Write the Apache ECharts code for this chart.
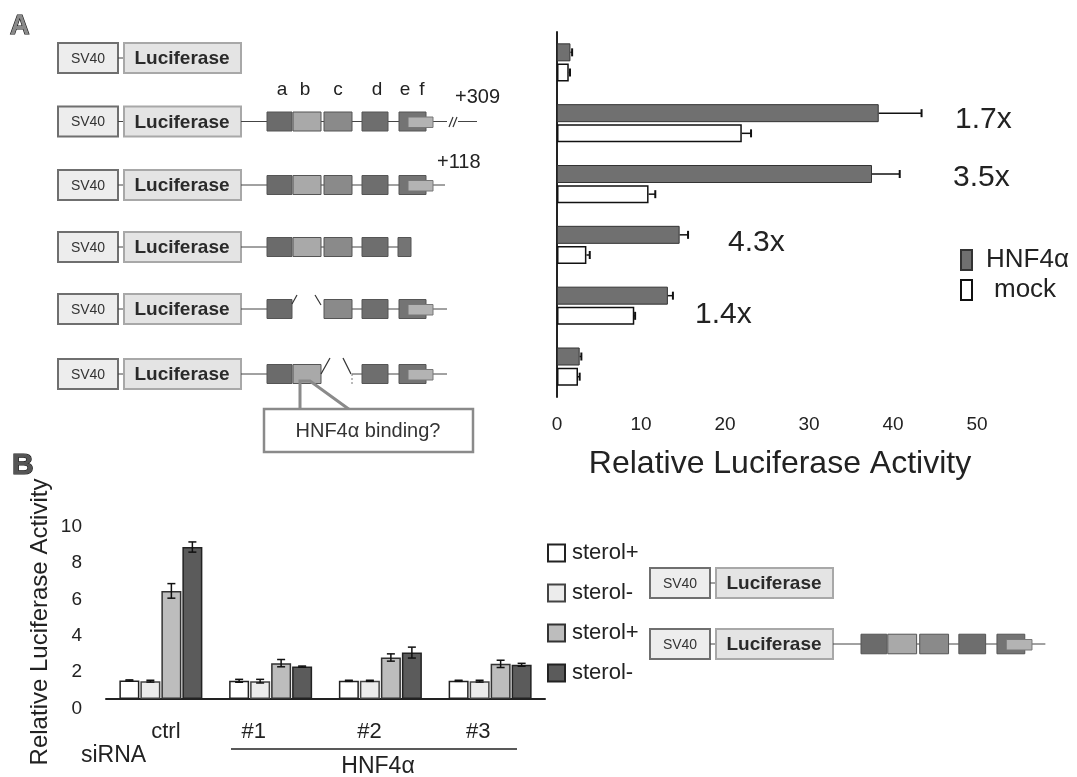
<!DOCTYPE html>
<html lang="en">
<head>
  <meta charset="UTF-8">
  <title>Relative Luciferase Activity</title>
  <script src="https://cdn.jsdelivr.net/npm/echarts@6/dist/echarts.min.js"></script>
  <style>html, body { margin: 0; background: #fff; }</style>
</head>
<body>
  <div id="main" style="width: 1077px; height: 777px;"></div>
  <script>
    // ---- panel A: six reporter constructs, top to bottom
    const constructs = ['SV40-Luc', '+309', '+118', 'a-e', 'del b', 'del c']
    const hnfVals = [1.6, 38.3, 37.5, 14.6, 13.2, 2.7]
    const hnfErr = [0.2, 5.1, 3.3, 1.0, 0.6, 0.2]
    const mockVals = [1.4, 22.0, 10.9, 3.5, 9.2, 2.5]
    const mockErr = [0.15, 1.1, 0.8, 0.4, 0.1, 0.2]
    const foldLabels = ['', '1.7x', '3.5x', '4.3x', '1.4x', '']

    // ---- panel B: siRNA groups
    const bGroups = ['ctrl', '#1', '#2', '#3']
    const svPlus = [1.02, 1.0, 1.0, 1.0]
    const svPlusErr = [0.03, 0.08, 0.03, 0.03]
    const svMinus = [0.98, 0.98, 1.0, 0.98]
    const svMinusErr = [0.05, 0.1, 0.03, 0.05]
    const fullPlus = [5.94, 1.97, 2.28, 1.93]
    const fullPlusErr = [0.4, 0.2, 0.2, 0.2]
    const fullMinus = [8.35, 1.78, 2.55, 1.88]
    const fullMinusErr = [0.28, 0.03, 0.3, 0.08]

    const F = 'Liberation Sans, Arial, sans-serif'
    const chart = echarts.init(document.getElementById('main'))

    // horizontal error bars (panel A), only to the right
    function errH(vals, errs, off) {
      return {
        type: 'custom', xAxisIndex: 0, yAxisIndex: 0, z: 4, silent: true,
        data: vals.map((v, i) => [i, v, v + errs[i]]),
        encode: { x: [1, 2], y: 0 },
        renderItem(params, api) {
          const p1 = api.coord([api.value(1), api.value(0)])
          const p2 = api.coord([api.value(2), api.value(0)])
          const y = p1[1] + off
          return {
            type: 'group', children: [
              { type: 'line', shape: { x1: p1[0], y1: y, x2: p2[0], y2: y }, style: { stroke: '#111', lineWidth: 1.5 } },
              { type: 'line', shape: { x1: p2[0], y1: y - 4, x2: p2[0], y2: y + 4 }, style: { stroke: '#111', lineWidth: 2 } }
            ]
          }
        }
      }
    }

    // vertical error bars (panel B)
    function errV(vals, errs, off) {
      return {
        type: 'custom', xAxisIndex: 1, yAxisIndex: 1, z: 4, silent: true,
        data: vals.map((v, i) => [i, v - errs[i], v + errs[i]]),
        encode: { x: 0, y: [1, 2] },
        renderItem(params, api) {
          const p1 = api.coord([api.value(0), api.value(1)])
          const p2 = api.coord([api.value(0), api.value(2)])
          const x = p1[0] + off
          const s = { stroke: '#111', lineWidth: 1.5 }
          return {
            type: 'group', children: [
              { type: 'line', shape: { x1: x, y1: p1[1], x2: x, y2: p2[1] }, style: s },
              { type: 'line', shape: { x1: x - 4, y1: p1[1], x2: x + 4, y2: p1[1] }, style: s },
              { type: 'line', shape: { x1: x - 4, y1: p2[1], x2: x + 4, y2: p2[1] }, style: s }
            ]
          }
        }
      }
    }

    // ---- drawing helpers for the construct diagrams
    function txt(x, y, s, size, o = {}) {
      return {
        type: 'text', x, y, silent: true,
        style: Object.assign({ text: s, fontSize: size, fontFamily: F, fill: '#222', align: 'left', verticalAlign: 'middle' }, o)
      }
    }
    function rect(x, y, w, h, fill, stroke, lw = 1) {
      return { type: 'rect', silent: true, shape: { x, y, width: w, height: h }, style: { fill, stroke, lineWidth: lw } }
    }
    function line(x1, y1, x2, y2, lw = 1, c = '#444') {
      return { type: 'line', silent: true, shape: { x1, y1, x2, y2 }, style: { stroke: c, lineWidth: lw } }
    }

    function promoter(x0, yc) {
      return [
        rect(x0, yc - 15, 60, 30, '#ededed', '#6f6f6f', 2),
        txt(x0 + 30, yc + 1, 'SV40', 14, { align: 'center', fill: '#333' }),
        line(x0 + 60, yc, x0 + 66, yc),
        rect(x0 + 66, yc - 15, 117, 30, '#e4e4e4', '#a8a8a8', 2),
        txt(x0 + 124, yc + 1, 'Luciferase', 19, { align: 'center', fontWeight: 'bold', fill: '#2a2a2a' })
      ]
    }

    const part = {
      a: [0, 25, '#6b6b6b'], b: [26, 54, '#a9a9a9'], c: [57, 85, '#8a8a8a'],
      d: [95, 121, '#6e6e6e'], e: [132, 159, '#747474'], es: [131, 144, '#747474']
    }
    // keys: block names, links: connecting line pieces, withF: add f box, tailEnd: 3' line end
    function blocks(xa, yc, k, keys, links, withF, tailEnd) {
      const h = 19 * k
      const out = []
      links.forEach(([a, b]) => out.push(line(xa + a * k, yc, xa + b * k, yc)))
      if (tailEnd) out.push(line(xa + 166 * k, yc, xa + tailEnd * k, yc))
      keys.forEach(key => {
        const [a, b, c] = part[key]
        out.push(rect(xa + a * k, yc - h / 2, (b - a) * k, h, c, '#555', 1))
      })
      if (withF) out.push(rect(xa + 141 * k, yc - 4.5, 25 * k, 10.5, '#b3b3b3', '#777', 1))
      return out
    }

    const g = []
    // panel letters
    g.push(txt(10, 27, 'A', 27, { fontWeight: 'bold', fill: '#8a8a8a', stroke: '#111', lineWidth: 1.2 }))
    g.push(txt(12, 466, 'B', 30, { fontWeight: 'bold', fill: '#555', stroke: '#111', lineWidth: 1.2 }))

    // panel A diagrams
    const rowY = [58, 121.5, 185, 247, 309, 374]
    const xa = 267
    rowY.forEach(y => g.push(...promoter(58, y)))
    for (let i = 1; i < 6; i++) g.push(line(241, rowY[i], xa, rowY[i]))
    const allLinks = [[54, 57], [85, 95], [121, 132]]
    g.push(...blocks(xa, rowY[1], 1, ['a', 'b', 'c', 'd', 'e'], allLinks, true, 180))
    g.push(...blocks(xa, rowY[2], 1, ['a', 'b', 'c', 'd', 'e'], allLinks, true, 178))
    g.push(...blocks(xa, rowY[3], 1, ['a', 'b', 'c', 'd', 'es'], [[54, 57], [85, 95], [121, 131]], false, 0))
    g.push(...blocks(xa, rowY[4], 1, ['a', 'c', 'd', 'e'], [[85, 95], [121, 132]], true, 180))
    g.push(...blocks(xa, rowY[5], 1, ['a', 'b', 'd', 'e'], [[85, 95], [121, 132]], true, 180))
    // deletion marks
    g.push(line(xa + 25, rowY[4] - 5, xa + 30, rowY[4] - 14, 1.2, '#333'))
    g.push(line(xa + 48, rowY[4] - 14, xa + 54, rowY[4] - 4, 1.2, '#333'))
    g.push(line(xa + 54, rowY[5], xa + 63, rowY[5] - 16, 1.2, '#333'))
    g.push(line(xa + 76, rowY[5] - 16, xa + 84, rowY[5], 1.2, '#333'))
    g.push({ type: 'line', silent: true, shape: { x1: xa + 85, y1: rowY[5], x2: xa + 85, y2: rowY[5] + 12 }, style: { stroke: '#777', lineWidth: 1, lineDash: [2, 2] } })
    // +309 break mark and extension
    g.push(line(449, 127, 453, 117, 1.2, '#333'), line(453, 127, 457, 117, 1.2, '#333'), line(458, 121.5, 477, 121.5))
    ;[['a', 282], ['b', 305], ['c', 338], ['d', 377], ['e', 405], ['f', 422]].forEach(([s, x]) =>
      g.push(txt(x, 90, s, 19, { align: 'center' })))
    g.push(txt(455, 97, '+309', 20), txt(437, 162, '+118', 20))
    // callout
    g.push({ type: 'polyline', silent: true, shape: { points: [[300, 410], [300, 381], [310, 381], [350, 410]] }, style: { stroke: '#8a8a8a', lineWidth: 3, fill: null } })
    g.push(rect(264, 409, 209, 43, '#fff', '#8a8a8a', 2.5))
    g.push(txt(368, 431, 'HNF4α binding?', 20, { align: 'center', fill: '#333' }))

    // fold-change labels beside the bars
    const foldPos = [null, [955, 120], [953, 178], [728, 243], [695, 315], null]
    foldLabels.forEach((s, i) => { if (s) g.push(txt(foldPos[i][0], foldPos[i][1], s, 30)) })

    // panel B diagrams and axis notes
    g.push(...promoter(650, 583))
    g.push(...promoter(650, 644))
    g.push(line(833, 644, 861, 644))
    g.push(...blocks(861, 644, 1.03, ['a', 'b', 'c', 'd', 'e'], allLinks, true, 179))
    g.push(txt(81, 756, 'siRNA', 23))
    g.push(line(231, 749, 517, 749, 1.5, '#222'))
    g.push(txt(378, 767, 'HNF4α', 23, { align: 'center' }))

    const axisLine = { lineStyle: { color: '#222', width: 2 } }
    const tickIn = { inside: true, length: 5, lineStyle: { color: '#222', width: 1.5 } }

    const option = {
      animation: false,
      grid: [
        { left: 557, top: 32, width: 420, height: 365 },
        { left: 106, top: 517, width: 439, height: 182 }
      ],
      legend: [
        {
          data: ['HNF4α', 'mock'], orient: 'vertical', left: 960, top: 247, padding: 0,
          icon: 'rect', itemWidth: 11, itemHeight: 20, itemGap: 4,
          formatter: n => n === 'mock' ? '{m|mock}' : '{h|' + n + '}',
          textStyle: {
            fontSize: 26, fontFamily: F, color: '#222', lineHeight: 26,
            rich: { h: { fontSize: 26, padding: [0, 0, 0, 9] }, m: { fontSize: 26, padding: [0, 0, 0, 17] } }
          }
        },
        {
          data: ['sterol+', 'sterol-', 'sterol+ ', 'sterol- '], orient: 'vertical', left: 547, top: 542, padding: 0,
          icon: 'rect', itemWidth: 17, itemHeight: 17, itemGap: 18,
          formatter: n => n.trim(),
          textStyle: { fontSize: 22, fontFamily: F, color: '#222', lineHeight: 22, padding: [0, 0, 0, 2] }
        }
      ],
      xAxis: [
        {
          gridIndex: 0, type: 'value', min: 0, max: 50, interval: 10,
          axisLine, axisTick: tickIn, splitLine: { show: false },
          axisLabel: { fontSize: 19, fontFamily: F, color: '#222', margin: 18 },
          name: 'Relative Luciferase Activity', nameLocation: 'middle', nameGap: 51,
          nameTextStyle: { fontSize: 32, fontFamily: F, color: '#222', padding: [0, 0, 0, 26] }
        },
        {
          gridIndex: 1, type: 'category', data: bGroups,
          axisLine, axisTick: { show: false },
          axisLabel: {
            fontFamily: F, color: '#222', margin: 22,
            formatter: (v, i) => '{g' + i + '|' + v + '}',
            rich: {
              g0: { fontSize: 22, padding: [0, 0, 0, 10] },
              g1: { fontSize: 22, padding: [0, 34, 0, 0] },
              g2: { fontSize: 22, padding: [0, 22, 0, 0] },
              g3: { fontSize: 22, padding: [0, 24, 0, 0] }
            }
          }
        }
      ],
      yAxis: [
        {
          gridIndex: 0, type: 'category', data: constructs, inverse: true,
          axisLine, axisTick: tickIn, axisLabel: { show: false }
        },
        {
          gridIndex: 1, type: 'value', min: 0, max: 10, interval: 2,
          axisLine, axisTick: tickIn, splitLine: { show: false },
          axisLabel: { fontSize: 19, fontFamily: F, color: '#222', margin: 24, verticalAlign: 'top', lineHeight: 19 },
          name: 'Relative Luciferase Activity', nameLocation: 'middle', nameGap: 54,
          nameTextStyle: { fontSize: 24, fontFamily: F, color: '#222', padding: [0, 28, 0, 0] }
        }
      ],
      series: [
        {
          name: 'HNF4α', type: 'bar', xAxisIndex: 0, yAxisIndex: 0, data: hnfVals,
          barWidth: 18, barGap: '12%', itemStyle: { color: '#707070', borderColor: '#333', borderWidth: 1 }
        },
        {
          name: 'mock', type: 'bar', xAxisIndex: 0, yAxisIndex: 0, data: mockVals,
          barWidth: 18, barGap: '12%', itemStyle: { color: '#fff', borderColor: '#111', borderWidth: 1.5 }
        },
        errH(hnfVals, hnfErr, -10.08),
        errH(mockVals, mockErr, 10.08),
        {
          name: 'sterol+', type: 'bar', xAxisIndex: 1, yAxisIndex: 1, data: svPlus,
          barWidth: 20, barGap: '5%', itemStyle: { color: '#fff', borderColor: '#222', borderWidth: 1.5 }
        },
        {
          name: 'sterol-', type: 'bar', xAxisIndex: 1, yAxisIndex: 1, data: svMinus,
          barWidth: 20, barGap: '5%', itemStyle: { color: '#ececec', borderColor: '#444', borderWidth: 1.5 }
        },
        {
          name: 'sterol+ ', type: 'bar', xAxisIndex: 1, yAxisIndex: 1, data: fullPlus,
          barWidth: 20, barGap: '5%', itemStyle: { color: '#bdbdbd', borderColor: '#333', borderWidth: 1.5 }
        },
        {
          name: 'sterol- ', type: 'bar', xAxisIndex: 1, yAxisIndex: 1, data: fullMinus,
          barWidth: 20, barGap: '5%', itemStyle: { color: '#5b5b5b', borderColor: '#222', borderWidth: 1.5 }
        },
        errV(svPlus, svPlusErr, -31.5),
        errV(svMinus, svMinusErr, -10.5),
        errV(fullPlus, fullPlusErr, 10.5),
        errV(fullMinus, fullMinusErr, 31.5)
      ],
      graphic: { elements: g }
    }

    chart.setOption(option)
  </script>
</body>
</html>
